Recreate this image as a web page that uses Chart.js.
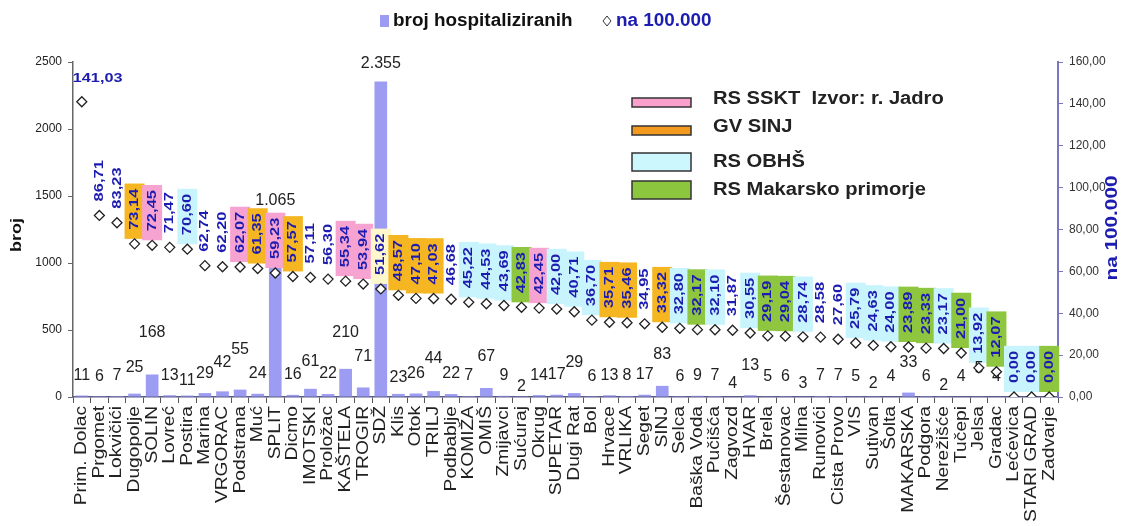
<!DOCTYPE html>
<html>
<head>
<meta charset="utf-8">
<script src="https://cdn.jsdelivr.net/npm/chart.js"></script>
<style>
    body { margin: 0; background: #fff; }
    #wrap { width: 1129px; height: 526px; position: relative; }
</style>
</head>
<body>
<div id="wrap"><canvas id="hospChart"></canvas></div>
<script>
// Općine / gradovi SDŽ
const opcine = ['Prim. Dolac', 'Prgomet', 'Lokvičići', 'Dugopolje', 'SOLIN', 'Lovreć', 'Postira', 'Marina',
    'VRGORAC', 'Podstrana', 'Muć', 'SPLIT', 'Dicmo', 'IMOTSKI', 'Proložac', 'KAŠTELA', 'TROGIR', 'SDŽ',
    'Klis', 'Otok', 'TRILJ', 'Podbablje', 'KOMIŽA', 'OMIŠ', 'Zmijavci', 'Sućuraj', 'Okrug', 'SUPETAR',
    'Dugi Rat', 'Bol', 'Hrvace', 'VRLIKA', 'Seget', 'SINJ', 'Selca', 'Baška Voda', 'Pučišća', 'Zagvozd',
    'HVAR', 'Brela', 'Šestanovac', 'Milna', 'Runovići', 'Cista Provo', 'VIS', 'Sutivan', 'Šolta',
    'MAKARSKA', 'Podgora', 'Nerežišće', 'Tučepi', 'Jelsa', 'Gradac', 'Lećevica', 'STARI GRAD', 'Zadvarje'];

// broj hospitaliziranih
const brojHosp = [11, 6, 7, 25, 168, 13, 11, 29, 42, 55, 24, 1065, 16, 61, 22, 210, 71, 2355,
    23, 26, 44, 22, 7, 67, 9, 2, 14, 17, 29, 6, 13, 8, 17, 83, 6, 9, 7, 4,
    13, 5, 6, 3, 7, 7, 5, 2, 4, 33, 6, 2, 4, 5, 4, 0, 0, 0];

// na 100.000 stanovnika
const na100000 = [141.03, 86.71, 83.23, 73.14, 72.45, 71.47, 70.60, 62.74, 62.20, 62.07, 61.35, 59.23,
    57.57, 57.11, 56.30, 55.34, 53.94, 51.62, 48.57, 47.10, 47.03, 46.68, 45.22, 44.53, 43.69, 42.83,
    42.45, 42.00, 40.71, 36.70, 35.71, 35.46, 34.95, 33.32, 32.80, 32.17, 32.10, 31.87, 30.55, 29.19,
    29.04, 28.74, 28.58, 27.60, 25.79, 24.63, 24.00, 23.89, 23.33, 23.17, 21.00, 13.92, 12.07, 0, 0, 0];

// vodoopskrba (oznaka po općini)
const sluzba = ['', '', '', 'GV', 'SSKT', '', 'OBHS', '', '', 'SSKT', 'GV', 'SSKT', 'GV', '', '', 'SSKT',
    'SSKT', 'SDZ', 'GV', 'GV', 'GV', '', 'OBHS', 'OBHS', 'OBHS', 'MP', 'SSKT', 'OBHS', 'OBHS', 'OBHS',
    'GV', 'GV', '', 'GV', 'OBHS', 'MP', 'OBHS', '', 'OBHS', 'MP', 'MP', 'OBHS', '', '', 'OBHS', 'OBHS',
    'OBHS', 'MP', 'MP', 'OBHS', 'MP', 'OBHS', 'MP', 'OBHS', 'OBHS', 'MP'];

const sluzbaKljuc = ['SSKT', 'GV', 'OBHS', 'MP'];
const sluzbaNaziv = ['RS SSKT  Izvor: r. Jadro', 'GV SINJ', 'RS OBHŠ', 'RS Makarsko primorje'];

const yTicksLijevo = [0, 500, 1000, 1500, 2000, 2500];
const yTicksDesno = [0, 20, 40, 60, 80, 100, 120, 140, 160];

// boje
const FONT = '"Liberation Sans", Arial, sans-serif';
const BAR_COLOR = '#9b9cf2';
const RATE_COLOR = '#1c1cb0';
const boxFill = { SSKT: '#f7a3d2', GV: '#f5b622', OBHS: '#c8f5fd', MP: '#8ec63f', SDZ: '#fff8cc' };
const legendFill = { SSKT: '#f9a0cc', GV: '#f39a1e', OBHS: '#ccf7fd', MP: '#8cc63e' };

// ručno pomaknute oznake broja (px prema gore)
const podizanje = { 3: 6, 4: 22, 6: -5, 8: 9, 9: 20, 11: 34, 13: 7, 15: 16, 16: 11, 17: -2, 18: -4,
    20: 13, 23: 11, 25: -10, 28: 11, 33: 11, 37: -7, 38: 10, 41: -7, 45: -7, 47: 10, 49: -9, 51: 8 };

const fmtBroj = v => String(v).replace(/\B(?=(\d{3})+(?!\d))/g, '.');
const fmtStopa = v => v.toFixed(2).replace('.', ',');

function pisi(ctx, text, x, y, angle, sx, align) {
    ctx.save();
    ctx.translate(x, y);
    ctx.rotate(angle);
    ctx.scale(sx, 1);
    ctx.textAlign = align;
    ctx.textBaseline = 'middle';
    ctx.fillText(text, 0, 0);
    ctx.restore();
}

const oznakePlugin = {
    id: 'oznake',
    afterDatasetDraw(chart, args) {
        if (args.index !== 0) return;
        const { ctx } = chart;
        const x = chart.scales.x, y = chart.scales.y, y1 = chart.scales.y1;
        ctx.save();

        // podloge i vrijednosti na 100.000
        ctx.font = 'bold 13px ' + FONT;
        na100000.forEach((v, i) => {
            const fill = boxFill[sluzba[i]];
            if (!fill || v > 100) return;
            const cx = x.getPixelForValue(i);
            const cy = y1.getPixelForValue(v);
            const len = ctx.measureText(fmtStopa(v)).width * 1.27;
            ctx.fillStyle = fill;
            ctx.fillRect(cx - 10, cy - len - 19, 20, len + 14);
        });
        ctx.fillStyle = RATE_COLOR;
        na100000.forEach((v, i) => {
            const cx = x.getPixelForValue(i);
            const cy = y1.getPixelForValue(v);
            if (v > 100) {
                pisi(ctx, fmtStopa(v), cx - 9, cy - 23, 0, 1.25, 'left');
            } else {
                pisi(ctx, fmtStopa(v), cx, cy - 14, -Math.PI / 2, 1.27, 'left');
            }
        });

        // broj hospitaliziranih
        ctx.font = '16px ' + FONT;
        ctx.fillStyle = '#222';
        brojHosp.forEach((v, i) => {
            if (!v) return;
            const cx = x.getPixelForValue(i);
            const top = y.getPixelForValue(v);
            pisi(ctx, fmtBroj(v), cx, top - 20 - (podizanje[i] || 0), 0, 1, 'center');
        });
        ctx.restore();
    },
    afterDraw(chart) {
        const { ctx } = chart;
        const x = chart.scales.x;
        ctx.save();

        // nazivi općina
        ctx.font = '16px ' + FONT;
        ctx.fillStyle = '#222';
        opcine.forEach((n, i) => {
            pisi(ctx, n, x.getPixelForValue(i), 406, -Math.PI / 2, 1.2, 'right');
        });

        // naslovi osi
        ctx.font = 'bold 15px ' + FONT;
        ctx.fillStyle = '#111';
        pisi(ctx, 'broj', 17, 235, -Math.PI / 2, 1.2, 'center');
        ctx.font = 'bold 17px ' + FONT;
        ctx.fillStyle = RATE_COLOR;
        pisi(ctx, 'na 100.000', 1112, 228, -Math.PI / 2, 1.22, 'center');

        // legenda serija
        ctx.fillStyle = BAR_COLOR;
        ctx.fillRect(380, 15, 9, 12);
        ctx.font = 'bold 18px ' + FONT;
        ctx.fillStyle = '#111';
        pisi(ctx, 'broj hospitaliziranih', 393, 21, 0, 1.05, 'left');
        ctx.beginPath();
        ctx.moveTo(607, 16); ctx.lineTo(611, 21); ctx.lineTo(607, 26); ctx.lineTo(603, 21); ctx.closePath();
        ctx.strokeStyle = '#333';
        ctx.lineWidth = 1;
        ctx.stroke();
        ctx.fillStyle = RATE_COLOR;
        pisi(ctx, 'na 100.000', 616, 21, 0, 1.05, 'left');

        // legenda vodoopskrbe
        const redovi = [[98, 9, 99], [126, 9, 127], [153, 18, 162], [181, 18, 190]];
        ctx.font = 'bold 18px ' + FONT;
        sluzbaKljuc.forEach((k, j) => {
            const [top, h, ty] = redovi[j];
            ctx.fillStyle = legendFill[k];
            ctx.fillRect(632, top, 59, h);
            ctx.strokeStyle = '#333';
            ctx.lineWidth = 1.5;
            ctx.strokeRect(632, top, 59, h);
            ctx.fillStyle = '#222';
            pisi(ctx, sluzbaNaziv[j], 713, ty, 0, 1.12, 'left');
        });
        ctx.restore();
    }
};

new Chart(document.getElementById('hospChart').getContext('2d'), {
    type: 'bar',
    data: {
        labels: opcine,
        datasets: [
            {
                label: 'broj hospitaliziranih',
                data: brojHosp,
                backgroundColor: BAR_COLOR,
                categoryPercentage: 1,
                barPercentage: 0.72,
                yAxisID: 'y',
                order: 1
            },
            {
                type: 'line',
                label: 'na 100.000',
                data: na100000,
                showLine: false,
                pointStyle: 'rectRot',
                pointRadius: 5,
                pointBackgroundColor: '#fff',
                pointBorderColor: '#222',
                pointBorderWidth: 1.3,
                yAxisID: 'y1',
                order: 0
            }
        ]
    },
    options: {
        responsive: true,
        maintainAspectRatio: false,
        animation: false,
        layout: { padding: { top: 62, left: 0, right: 0, bottom: 0 } },
        plugins: { legend: { display: false }, tooltip: { enabled: false } },
        scales: {
            x: {
                ticks: { display: false },
                grid: { offset: true, drawOnChartArea: false, tickLength: 6, color: '#555' },
                border: { color: '#5a5a8a', width: 1.5 },
                afterFit: s => { s.height = 129; }
            },
            y: {
                position: 'left',
                min: 0,
                max: 2500,
                afterBuildTicks: s => { s.ticks = yTicksLijevo.map(v => ({ value: v })); },
                ticks: { color: '#222', font: { family: FONT, size: 12 }, padding: 6, callback: v => String(v) },
                grid: { drawOnChartArea: false, tickLength: 5, color: '#666' },
                border: { color: '#666', width: 1.5 },
                afterFit: s => { s.width = 73; }
            },
            y1: {
                position: 'right',
                min: 0,
                max: 160,
                afterBuildTicks: s => { s.ticks = yTicksDesno.map(v => ({ value: v })); },
                ticks: { color: '#333', font: { family: FONT, size: 12 }, padding: 6, callback: v => fmtStopa(v) },
                grid: { drawOnChartArea: false, tickLength: 5, color: '#7676c4' },
                border: { color: '#7676c4', width: 2 },
                afterFit: s => { s.width = 71; }
            }
        }
    },
    plugins: [oznakePlugin]
});
</script>
</body>
</html>
